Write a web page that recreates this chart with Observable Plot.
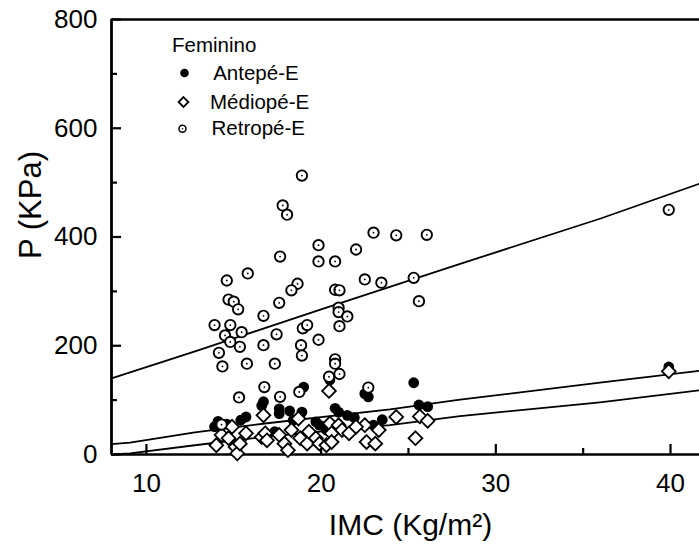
<!DOCTYPE html>
<html><head><meta charset="utf-8">
<script src="https://cdn.jsdelivr.net/npm/d3@7"></script>
<script src="https://cdn.jsdelivr.net/npm/@observablehq/plot@0.6"></script>
<style>body{margin:0;background:#fff} svg{display:block;background:#fff}</style>
</head><body><div id="chart"></div>
<script>
const legendTitle = "Feminino";
const seriesNames = ["Antepé-E", "Médiopé-E", "Retropé-E"];
const xLabel = "IMC (Kg/m²)";
const yLabel = "P (KPa)";

const xTicks = [10, 20, 30, 40];
const xMinor = [15, 25, 35];
const yTicks = [0, 200, 400, 600, 800];
const yMinor = [100, 300, 500, 700];

// Antepé-E (filled circles)
const antepeX = [13.9, 14.1, 14.6, 15.4, 15.7, 16.6, 16.7, 17.6, 17.6, 17.35, 18.2, 18.4, 18.9, 19.0, 19.7, 19.9, 20.3, 20.2, 20.5, 20.8, 21.0, 21.5, 21.9, 22.5, 22.7, 23.0, 23.5, 25.3, 25.6, 26.1, 39.9];
const antepeY = [51, 61, 56, 63, 69, 90, 97, 84, 75, 42, 80, 63, 78, 124, 60, 54, 45, 51, 137, 85, 78, 72, 68, 112, 106, 54, 64, 132, 91, 88, 161];

// Médiopé-E (open diamonds)
const mediopeX = [14.9, 14.3, 14.7, 14.0, 15.1, 15.2, 15.7, 15.35, 16.6, 16.7, 18.7, 16.8, 16.9, 17.6, 18.3, 17.9, 18.1, 18.8, 19.2, 19.3, 19.7, 19.9, 20.3, 20.45, 20.5, 21.0, 21.2, 20.6, 20.6, 21.6, 22.5, 22.6, 23.1, 23.3, 24.3, 22.0, 25.65, 26.1, 25.4, 39.9];
const mediopeY = [51, 36, 30, 17, 14, 2, 39, 20, 32, 72, 66, 39, 26, 36, 45, 20, 8, 30, 20, 42, 30, 20, 17, 117, 57, 54, 45, 39, 23, 39, 54, 23, 20, 45, 69, 51, 70, 62, 30, 153];

// Retropé-E (open circles with centre dot)
const retropeX = [18.9, 17.8, 18.05, 17.65, 15.8, 14.6, 14.7, 15.0, 15.25, 18.65, 18.3, 17.6, 16.7, 13.9, 14.8, 14.5, 15.45, 14.8, 17.45, 18.95, 19.2, 19.85, 14.15, 14.35, 15.35, 15.75, 16.7, 17.35, 18.85, 18.9, 23.0, 24.3, 26.05, 19.85, 19.85, 20.8, 22.0, 22.5, 23.45, 25.3, 25.6, 20.8, 21.05, 21.0, 21.0, 21.5, 21.05, 20.8, 20.8, 20.45, 21.05, 22.7, 15.3, 16.75, 17.65, 18.75, 14.3, 39.9];
const retropeY = [513, 458, 441, 364, 333, 320, 285, 281, 267, 314, 302, 279, 255, 238, 238, 219, 225, 207, 221, 232, 238, 211, 187, 162, 198, 167, 201, 167, 201, 182, 408, 403, 404, 385, 355, 355, 377, 322, 316, 325, 282, 303, 302, 270, 262, 254, 236, 175, 167, 143, 148, 123, 105, 124, 106, 115, 55, 450];

// Fitted lines
const fitRetroX = [8, 13, 20, 28, 36, 41.66];
const fitRetroY = [140, 192, 267, 351, 434, 498];
const fitAnteX = [8, 9.06, 12.77, 16.78, 23.94, 27.95, 35.96, 41.66];
const fitAnteY = [19, 22, 40.5, 57, 83, 101, 132, 154];
const fitMedioX = [8, 9.06, 12.77, 16.78, 23.94, 27.95, 35.96, 41.66];
const fitMedioY = [0, 2, 17, 32.5, 54, 70.5, 96, 118];

const zip = (xs, ys) => xs.map((x, i) => ({x, y: ys[i]}));
const antepe = zip(antepeX, antepeY);
const mediope = zip(mediopeX, mediopeY);
const retrope = zip(retropeX, retropeY);
const fitRetro = zip(fitRetroX, fitRetroY);
const fitAnte = zip(fitAnteX, fitAnteY);
const fitMedio = zip(fitMedioX, fitMedioY);

const W = 699, H = 548, mL = 111, mR = 0, mT = 19, mB = 94;
const innerW = W - mL - mR, innerH = H - mT - mB;
const font = "'Liberation Sans', Arial, sans-serif";
const ink = "black";

const chart = Plot.plot({
  width: W, height: H,
  marginLeft: mL, marginRight: mR, marginTop: mT, marginBottom: mB,
  style: {fontFamily: font, color: ink, background: "#fff"},
  x: {domain: [8, 41.66]},
  y: {domain: [0, 800]},
  marks: [
    // frame
    Plot.ruleX([8], {x: d => d, stroke: ink, strokeWidth: 2.8}),
    Plot.ruleY([0], {y: d => d, stroke: ink, strokeWidth: 2.6}),
    Plot.ruleY([800], {y: d => d, stroke: ink, strokeWidth: 2.4}),
    // inward ticks
    Plot.tickX(xTicks, {x: d => d, stroke: ink, strokeWidth: 2.2, insetTop: innerH - 10}),
    Plot.tickX(xMinor, {x: d => d, stroke: ink, strokeWidth: 2.2, insetTop: innerH - 6}),
    Plot.tickY(yTicks, {y: d => d, stroke: ink, strokeWidth: 2.2, insetRight: innerW - 10}),
    Plot.tickY(yMinor, {y: d => d, stroke: ink, strokeWidth: 2.2, insetRight: innerW - 6}),
    // fitted lines
    Plot.line(fitRetro, {x: "x", y: "y", stroke: ink, strokeWidth: 1.8}),
    Plot.line(fitAnte, {x: "x", y: "y", stroke: ink, strokeWidth: 1.8}),
    Plot.line(fitMedio, {x: "x", y: "y", stroke: ink, strokeWidth: 1.8}),
    // data
    Plot.dot(antepe, {x: "x", y: "y", r: 5.4, fill: ink, stroke: "none"}),
    Plot.dot(mediope, {x: "x", y: "y", r: 6.2, symbol: "diamond2", fill: "#fff", stroke: ink, strokeWidth: 1.8}),
    Plot.dot(retrope, {x: "x", y: "y", r: 5.2, fill: "#fff", stroke: ink, strokeWidth: 1.9}),
    Plot.dot(retrope, {x: "x", y: "y", r: 0.9, fill: ink, stroke: "none"}),
    // tick labels
    Plot.axisX({ticks: xTicks, tickSize: 0, tickPadding: 19, fontSize: 26, label: null}),
    Plot.axisY({ticks: yTicks, tickSize: 0, tickPadding: 14, fontSize: 26, label: null}),
    // axis titles
    Plot.text([xLabel], {text: d => d, frameAnchor: "bottom", dx: 5, dy: 71, fontSize: 30, lineAnchor: "middle", fill: ink}),
    Plot.text([yLabel], {text: d => d, frameAnchor: "left", rotate: -90, dx: -80, dy: 22, fontSize: 31, lineAnchor: "middle", fill: ink}),
    // legend
    Plot.text([legendTitle], {text: d => d, frameAnchor: "top-left", textAnchor: "start", lineAnchor: "middle", dx: 60.5, dy: 26, fontSize: 20.5, fill: ink}),
    Plot.dot([seriesNames[0]], {frameAnchor: "top-left", dx: 73, dy: 53.5, r: 4.3, fill: ink}),
    Plot.text([seriesNames[0]], {text: d => d, frameAnchor: "top-left", textAnchor: "start", lineAnchor: "middle", dx: 101.7, dy: 53.7, fontSize: 20.5, fill: ink}),
    Plot.dot([seriesNames[1]], {frameAnchor: "top-left", dx: 72, dy: 82.5, r: 4.4, symbol: "diamond2", fill: "#fff", stroke: ink, strokeWidth: 1.8}),
    Plot.text([seriesNames[1]], {text: d => d, frameAnchor: "top-left", textAnchor: "start", lineAnchor: "middle", dx: 98.5, dy: 82.7, fontSize: 20.5, fill: ink}),
    Plot.dot([seriesNames[2]], {frameAnchor: "top-left", dx: 71, dy: 109.3, r: 3.5, fill: "#fff", stroke: ink, strokeWidth: 1.5}),
    Plot.dot([seriesNames[2]], {frameAnchor: "top-left", dx: 71, dy: 109.3, r: 0.8, fill: ink}),
    Plot.text([seriesNames[2]], {text: d => d, frameAnchor: "top-left", textAnchor: "start", lineAnchor: "middle", dx: 100, dy: 109.4, fontSize: 20.5, fill: ink})
  ]
});
document.getElementById("chart").appendChild(chart);
</script>
</body></html>
